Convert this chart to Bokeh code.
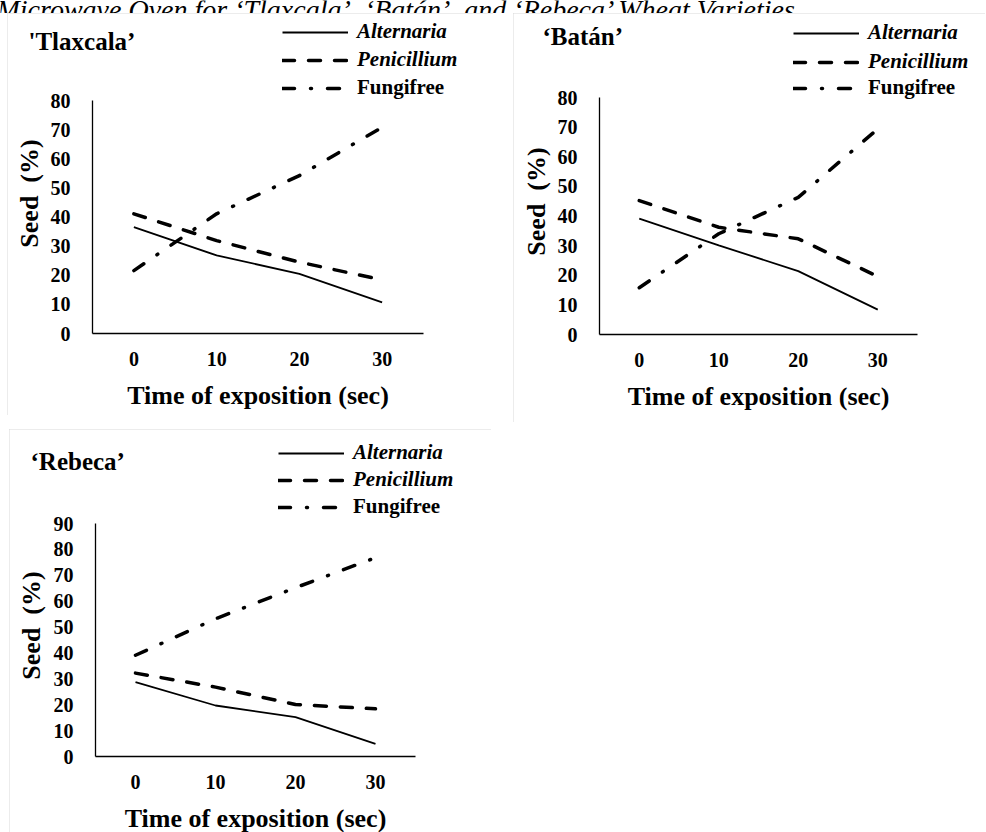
import math
from bokeh.plotting import figure
from bokeh.models import FixedTicker, Legend, LegendItem, Label, Range1d, Spacer
from bokeh.layouts import column, row
from bokeh.embed import file_html
from bokeh.resources import INLINE

# ---------------- data ----------------
times = [0, 10, 20, 30]
x_ticks = [0, 10, 20, 30]
y_ticks_80 = [0, 10, 20, 30, 40, 50, 60, 70, 80]
y_ticks_90 = [0, 10, 20, 30, 40, 50, 60, 70, 80, 90]

series_names = ["Alternaria", "Penicillium", "Fungifree"]

tlaxcala_alternaria = [36.5, 26.8, 20.5, 10.7]
tlaxcala_penicillium = [41.1, 31.9, 24.5, 18.4]
tlaxcala_fungifree = [21.6, 41.1, 54.2, 70.8]

batan_alternaria = [39.1, 30.1, 21.4, 8.4]
batan_penicillium = [45.2, 36.2, 32.3, 19.6]
batan_fungifree = [15.8, 34.0, 46.3, 69.4]

rebeca_alternaria = [28.7, 19.7, 15.2, 4.9]
rebeca_penicillium = [32.2, 26.8, 20.1, 18.4]
rebeca_fungifree = [39.1, 53.2, 65.2, 76.8]

page_title = "Microwave Oven for \u2018Tlaxcala\u2019, \u2018Bat\u00e1n\u2019, and \u2018Rebeca\u2019 Wheat Varieties"
x_title = "Time of exposition (sec)"
y_title = "Seed\u00a0 (%)"

FONT = "Liberation Serif"
BORDER = {"outline": "2px solid #d9d9d9", "outline-offset": "-2px"}

styles = [
    dict(line_dash="solid", line_width=1.8, line_cap="butt", font_style="bold italic"),
    dict(line_dash="12 14", line_width=3.5, line_cap="round", font_style="bold italic"),
    dict(line_dash="12 16 1 16", line_width=3.5, line_cap="round", font_style="bold"),
]


def build_panel(name, values, yticks, canvas, axis_px, title_pos, ytitle_pos, legend_x, legend_ys):
    # canvas: (left, top, right, bottom) in page px; axis_px: pixel spots of x=-5, x=35, y=0, y=top
    cl, ct, cr, cb = canvas
    ax0, ax1, ay0, ay1 = axis_px
    xmin, xmax = -5, 35
    ymin, ymax = 0, yticks[-1]
    sx = (ax1 - ax0) / (xmax - xmin)
    sy = (ay0 - ay1) / (ymax - ymin)
    xr = Range1d(xmin - (ax0 - cl) / sx, xmax + (cr - ax1) / sx)
    yr = Range1d(ymin - (cb - ay0) / sy, ymax + (ay1 - ct) / sy)
    width, height = cr - cl, cb - ct

    p = figure(width=width, height=height, output_backend="svg", toolbar_location=None,
               x_range=xr, y_range=yr, min_border=0,
               background_fill_color="white", border_fill_color="white")
    p.outline_line_color = None
    p.xgrid.visible = False
    p.ygrid.visible = False
    p.styles = BORDER

    p.xaxis.ticker = FixedTicker(ticks=x_ticks)
    p.yaxis.ticker = FixedTicker(ticks=yticks)
    p.xaxis.fixed_location = ymin
    p.yaxis.fixed_location = xmin
    p.xaxis.bounds = (xmin, xmax)
    p.yaxis.bounds = (ymin, ymax)
    for ax in (p.xaxis[0], p.yaxis[0]):
        ax.axis_line_color = "black"
        ax.axis_line_width = 1.3
        ax.major_tick_line_color = None
        ax.minor_tick_line_color = None
        ax.major_tick_out = 0
        ax.major_tick_in = 0
        ax.major_label_text_font = FONT
        ax.major_label_text_font_style = "bold"
        ax.major_label_text_font_size = "20px"
        ax.major_label_text_color = "black"
        ax.axis_label_text_font = FONT
        ax.axis_label_text_font_style = "bold"
        ax.axis_label_text_font_size = "26px"
        ax.axis_label_text_color = "black"
    p.xaxis.axis_label = x_title
    p.xaxis.major_label_standoff = 18
    p.yaxis.major_label_standoff = 22
    p.xaxis.axis_label_standoff = 12

    # vertical axis title, placed where the reference has it
    p.add_layout(Label(x=ytitle_pos[0] - cl, y=cb - ytitle_pos[1], x_units="screen", y_units="screen",
                       text=y_title, angle=math.pi / 2, text_font=FONT, text_font_style="bold",
                       text_font_size="26px", text_color="black",
                       text_align="center", text_baseline="middle"))

    for i, (vals, st) in enumerate(zip(values, styles)):
        r = p.line(times, vals, line_color="black", line_width=st["line_width"],
                   line_dash=st["line_dash"], line_cap=st["line_cap"])
        yc = legend_ys[i]
        lg = Legend(items=[LegendItem(label=series_names[i], renderers=[r])],
                    location=(legend_x - cl, cb - (yc + 12)),
                    padding=0, margin=0, spacing=0,
                    border_line_color=None, background_fill_alpha=0,
                    glyph_width=66, glyph_height=20, label_height=20,
                    label_standoff=9,
                    label_text_font=FONT, label_text_font_style=st["font_style"],
                    label_text_font_size="21px", label_text_color="black")
        p.add_layout(lg, "center")

    p.add_layout(Label(x=title_pos[0] - cl, y=cb - title_pos[1], x_units="screen", y_units="screen",
                       text=name, text_font=FONT, text_font_style="bold",
                       text_font_size="25px", text_color="black",
                       text_align="left", text_baseline="middle"))
    return p


p1 = build_panel("'Tlaxcala\u2019",
                 [tlaxcala_alternaria, tlaxcala_penicillium, tlaxcala_fungifree],
                 y_ticks_80, (7, 13, 493, 415), (92, 423, 333, 100),
                 (28, 41), (29, 193), 282, (32, 60, 88))
p2 = build_panel("\u2018Bat\u00e1n\u2019",
                 [batan_alternaria, batan_penicillium, batan_fungifree],
                 y_ticks_80, (513, 13, 985, 422), (599, 917, 334, 97),
                 (542, 36), (536, 201), 793, (33, 62, 88))
p3 = build_panel("\u2018Rebeca\u2019",
                 [rebeca_alternaria, rebeca_penicillium, rebeca_fungifree],
                 y_ticks_90, (9, 429, 491, 832), (95, 415, 756, 523),
                 (30, 461), (31, 625), 278, (453, 480, 507))

# thin strip holding the (cut-off) page caption, as in the reference
strip = figure(width=986, height=13, output_backend="svg", toolbar_location=None,
               x_range=Range1d(0, 1), y_range=Range1d(0, 1),
               min_border=0, border_fill_color="white", background_fill_color="white")
strip.outline_line_color = None
strip.axis.visible = False
strip.grid.visible = False
strip.add_layout(Label(x=-4, y=4, x_units="screen", y_units="screen", text=page_title,
                       text_font=FONT, text_font_style="italic", text_font_size="28px",
                       text_color="black", text_align="left", text_baseline="alphabetic"))

layout = column(strip,
                row(Spacer(width=7, height=10), p1, Spacer(width=20, height=10), p2),
                Spacer(width=10, height=7),
                row(Spacer(width=9, height=10), p3))

with open("out.html", "w") as f:
    f.write(file_html(layout, INLINE))
